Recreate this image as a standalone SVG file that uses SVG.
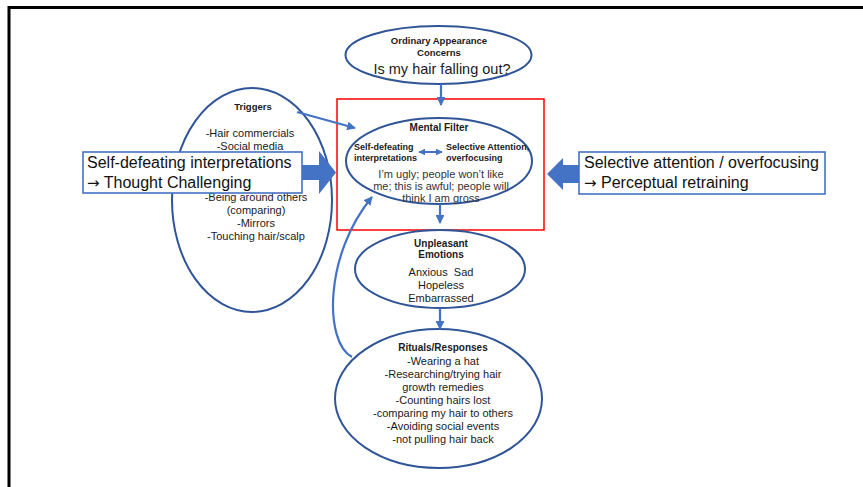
<svg xmlns="http://www.w3.org/2000/svg" width="863" height="487" viewBox="0 0 863 487">
  <defs>
    <marker id="head" viewBox="0 0 10 10" refX="9" refY="5" markerWidth="4" markerHeight="4" orient="auto-start-reverse" markerUnits="strokeWidth">
      <path d="M0,0 L10,5 L0,10 Z" fill="#4472C4"/>
    </marker>
    <marker id="headSmall" viewBox="0 0 10 10" refX="9" refY="5" markerWidth="3.4" markerHeight="3.4" orient="auto-start-reverse" markerUnits="strokeWidth">
      <path d="M0,0 L10,5 L0,10 Z" fill="#4472C4"/>
    </marker>
  </defs>
  <style>
    text { font-family: "Liberation Sans", Arial, sans-serif; fill: #1a1a1a; text-anchor: middle; }
    .b { font-weight: bold; }
    .oval { fill: #fff; stroke: #2F5597; stroke-width: 2; }
    .link { fill: none; stroke: #4472C4; stroke-width: 2.2; marker-end: url(#head); }
    .block { fill: #4472C4; }
    .note { fill: #fff; stroke: #4472C4; stroke-width: 1.6; }
    .note-text { font-size: 16px; text-anchor: start; fill: #111; }
    .arrow-glyph { font-family: "DejaVu Sans", sans-serif; font-size: 15px; }
    .body { font-size: 11px; }
    .soft { fill: #333; }
  </style>

  <!-- slide frame -->
  <rect x="9" y="7.5" width="900" height="500" fill="#fff" stroke="#000" stroke-width="3"/>

  <!-- triggers -->
  <g id="triggers">
    <ellipse class="oval" cx="252" cy="200" rx="80" ry="112"/>
    <text class="b" x="253" y="110" font-size="9.5">Triggers</text>
    <text class="body" x="250" y="137">-Hair commercials</text>
    <text class="body" x="250" y="150">-Social media</text>
    <text class="body" x="256" y="201">-Being around others</text>
    <text class="body" x="256" y="214">(comparing)</text>
    <text class="body" x="256" y="227">-Mirrors</text>
    <text class="body" x="256" y="240">-Touching hair/scalp</text>
  </g>

  <!-- ordinary appearance concerns -->
  <g id="concerns">
    <ellipse class="oval" cx="438.5" cy="55" rx="93" ry="29"/>
    <text class="b" x="439" y="44" font-size="9.5">Ordinary Appearance</text>
    <text class="b" x="439" y="56" font-size="9.5">Concerns</text>
    <text x="442" y="74" font-size="14.5">Is my hair falling out?</text>
  </g>

  <!-- mental filter -->
  <g id="mental-filter">
    <rect x="337" y="99" width="207" height="131" fill="none" stroke="#FF0000" stroke-width="1.5"/>
    <ellipse class="oval" cx="439" cy="161" rx="93" ry="43"/>
    <text class="b" x="439" y="131" font-size="10">Mental Filter</text>
    <text class="b" x="354" y="150" font-size="9" style="text-anchor:start">Self-defeating</text>
    <text class="b" x="354" y="161" font-size="9" style="text-anchor:start">interpretations</text>
    <text class="b" x="446" y="150" font-size="9" style="text-anchor:start">Selective Attention,</text>
    <text class="b" x="446" y="161" font-size="9" style="text-anchor:start">overfocusing</text>
    <line x1="419" y1="152" x2="442" y2="152" stroke="#4472C4" stroke-width="2" marker-start="url(#headSmall)" marker-end="url(#headSmall)"/>
    <text class="body soft" x="441" y="178">I’m ugly; people won’t like</text>
    <text class="body soft" x="441" y="190">me; this is awful; people will</text>
    <text class="body soft" x="441" y="202">think I am gross</text>
  </g>

  <!-- unpleasant emotions -->
  <g id="emotions">
    <ellipse class="oval" cx="440" cy="269" rx="85" ry="39"/>
    <text class="b" x="441" y="247" font-size="10">Unpleasant</text>
    <text class="b" x="441" y="258" font-size="10">Emotions</text>
    <text class="body" x="441" y="276">Anxious&#160; Sad</text>
    <text class="body" x="441" y="289">Hopeless</text>
    <text class="body" x="441" y="302">Embarrassed</text>
  </g>

  <!-- rituals / responses -->
  <g id="rituals">
    <ellipse class="oval" cx="438.5" cy="398.5" rx="103.5" ry="69.5"/>
    <text class="b" x="443" y="351" font-size="10">Rituals/Responses</text>
    <text class="body" x="443" y="365">-Wearing a hat</text>
    <text class="body" x="443" y="378">-Researching/trying hair</text>
    <text class="body" x="443" y="391">growth remedies</text>
    <text class="body" x="443" y="404">-Counting hairs lost</text>
    <text class="body" x="443" y="417">-comparing my hair to others</text>
    <text class="body" x="443" y="430">-Avoiding social events</text>
    <text class="body" x="443" y="443">-not pulling hair back</text>
  </g>

  <!-- connectors -->
  <g id="connectors">
    <line class="link" x1="441" y1="84" x2="441" y2="105"/>
    <line class="link" x1="440" y1="204" x2="440" y2="223"/>
    <line class="link" x1="440" y1="308" x2="440" y2="329"/>
    <line class="link" x1="297" y1="112" x2="355" y2="128"/>
    <path class="link" d="M352,357 C324,342 324,255 372,197" stroke-width="2.6"/>
    <!-- block arrows from the therapy notes -->
    <polygon class="block" points="290,165 319,165 319,151 336,172.5 319,194 319,180 290,180"/>
    <polygon class="block" points="590,165 563,165 563,158 547,174 563,190 563,183 590,183"/>
  </g>

  <!-- therapy notes -->
  <g id="note-thought">
    <rect class="note" x="83" y="152" width="219" height="41"/>
    <text class="note-text" x="87" y="168">Self-defeating interpretations</text>
    <text class="note-text" x="87" y="188"><tspan class="arrow-glyph">→</tspan> Thought Challenging</text>
  </g>
  <g id="note-perceptual">
    <rect class="note" x="579" y="152" width="246" height="42"/>
    <text class="note-text" x="584" y="168">Selective attention / overfocusing</text>
    <text class="note-text" x="584" y="188"><tspan class="arrow-glyph">→</tspan> Perceptual retraining</text>
  </g>
</svg>
